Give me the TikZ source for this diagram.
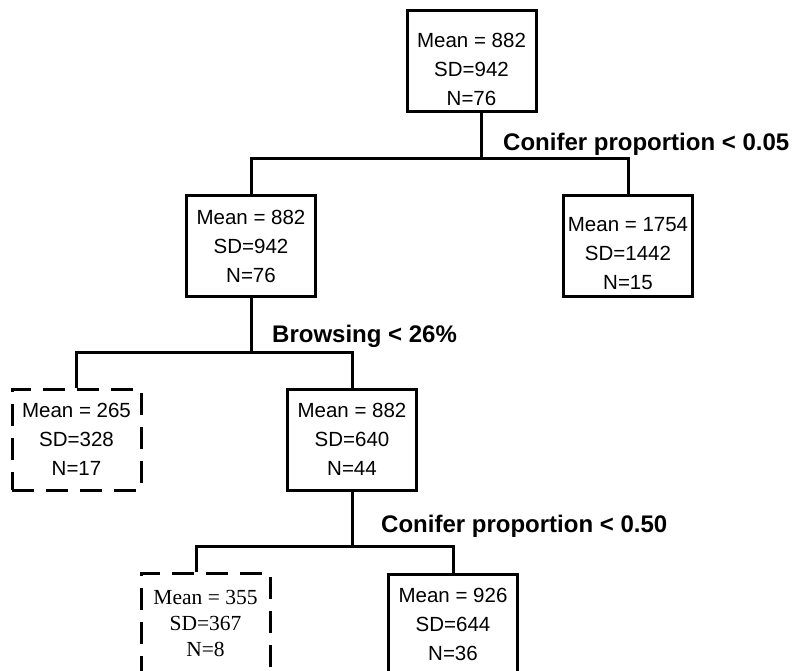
\documentclass[tikz,border=0pt]{standalone}
\usepackage{fontspec}
\setmainfont{Liberation Sans}
\newfontfamily\serifface{Liberation Serif}
\begin{document}
\begin{tikzpicture}[x=1pt,y=-1pt,
  box/.style={draw=black, line width=3pt, minimum width=129pt, minimum height=101pt, inner sep=0pt, align=center, font=\fontsize{20.5}{29}\selectfont},
  dbox/.style={box, dash pattern=on 22pt off 12pt},
  val/.style={align=center, font=\fontsize{20.5}{29}\selectfont, inner sep=0pt},
  sval/.style={font=\serifface\fontsize{21.5}{26}\selectfont},
  splitlab/.style={anchor=base west, font=\bfseries\fontsize{24}{28}\selectfont, inner sep=0pt},
  conn/.style={draw=black, line width=3pt, line join=miter}]
\useasboundingbox (0,0) rectangle (794,671);
\fill[white] (0,0) rectangle (794,671);
\clip (0,0) rectangle (794,671);

% boxes
\node[box] (root) at (471.5,61.5) {};
\node[val] (rootT) at (471.5,69) {Mean = 882\\SD=942\\N=76};
\node[box] (A) at (251,246) {Mean = 882\\SD=942\\N=76};
\node[box] (B) at (628,246) {};
\node[val] (BT) at (628,254) {Mean = 1754\\SD=1442\\N=15};
\node[dbox] (C) at (76.5,439.5) {Mean = 265\\SD=328\\N=17};
\node[box] (D) at (352,439.5) {Mean = 882\\SD=640\\N=44};
\node[dbox, sval] (E) at (205.5,623.5) {Mean = 355\\SD=367\\N=8};
\node[box] (F) at (453,624.5) {Mean = 926\\SD=644\\N=36};

% split labels
\node[splitlab] (s1) at (503,150) {Conifer proportion < 0.05};
\node[splitlab] (s2) at (272,342) {Browsing < 26\%};
\node[splitlab] (s3) at (381,532) {Conifer proportion < 0.50};

% connectors
\coordinate (j1) at (481.5,159);
\coordinate (j2) at (251,352);
\coordinate (j3) at (352,546);
\draw[conn] ([xshift=10pt]root.south) -- (j1);
\draw[conn] (A.north) |- (j1) -| (B.north);
\draw[conn] (A.south) -- (j2);
\draw[conn] (C.north) |- (j2) -| (D.north);
\draw[conn] (D.south) -- (j3);
\draw[conn] ([xshift=-9.5pt]E.north) |- (j3) -| (F.north);
\end{tikzpicture}
\end{document}
